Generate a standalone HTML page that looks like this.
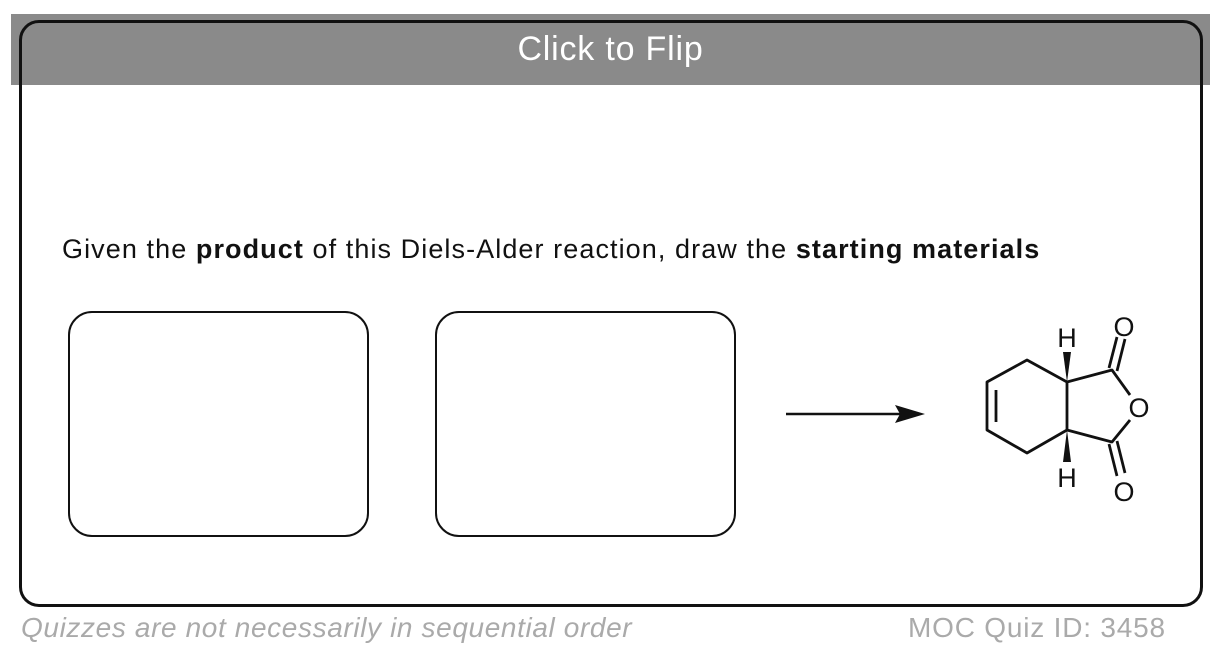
<!DOCTYPE html>
<html><head><style>
body{margin:0;width:1220px;height:658px;background:#fff;position:relative;overflow:hidden;font-family:"Liberation Sans",sans-serif}
.card{position:absolute;left:19px;top:20px;width:1178px;height:581px;border:3px solid #111;border-radius:20px;z-index:2}
.bar{position:absolute;left:11px;top:14px;width:1199px;height:71px;background:#8a8a8a;color:#fff;font-size:34px;letter-spacing:0.8px;text-align:center;line-height:70px;z-index:1}
.q{position:absolute;left:62px;top:234px;font-size:27px;letter-spacing:1.08px;color:#111;white-space:nowrap}
.box{position:absolute;top:311px;width:297px;height:222px;border:2.5px solid #111;border-radius:24px}
.f{position:absolute;top:612px;font-size:28px;color:#aaa;white-space:nowrap}
</style></head><body>
<div class="card"></div>
<div class="bar">Click to Flip</div>
<div class="q">Given the <b>product</b> of this Diels-Alder reaction, draw the <b>starting materials</b></div>
<div class="box" style="left:68px"></div>
<div class="box" style="left:435px"></div>
<svg width="1220" height="658" style="position:absolute;left:0;top:0">
<line x1="786" y1="414" x2="905" y2="414" stroke="#111" stroke-width="2.5"/>
<polygon points="925,414 895,405 900,414 895,423" fill="#111"/>
<g stroke="#111" stroke-width="2.8" fill="none" stroke-linejoin="round">
<polyline points="1067,382 1027,360 987,382 987,430 1027,453 1067,430 1067,382 1112,370 1130,395"/>
<polyline points="1067,430 1112,442 1130,420"/>
<line x1="996" y1="390" x2="996" y2="422"/>
<line x1="1109" y1="368" x2="1117" y2="337"/><line x1="1117" y1="371" x2="1125" y2="339"/>
<line x1="1109" y1="444" x2="1117" y2="476"/><line x1="1117" y1="441" x2="1125" y2="473"/>
</g>
<polygon points="1067,382 1063,352 1071,352" fill="#111"/>
<polygon points="1067,430 1063,462 1071,462" fill="#111"/>
<g font-family="Liberation Sans" font-size="27" fill="#111" text-anchor="middle">
<text x="1067" y="347">H</text><text x="1067" y="487">H</text>
<text x="1124" y="336">O</text><text x="1139" y="417">O</text><text x="1124" y="501">O</text>
</g>
</svg>
<div class="f" style="left:21px;font-style:italic;letter-spacing:0.62px">Quizzes are not necessarily in sequential order</div>
<div class="f" style="left:908px;letter-spacing:0.8px">MOC Quiz ID: 3458</div>
</body></html>
